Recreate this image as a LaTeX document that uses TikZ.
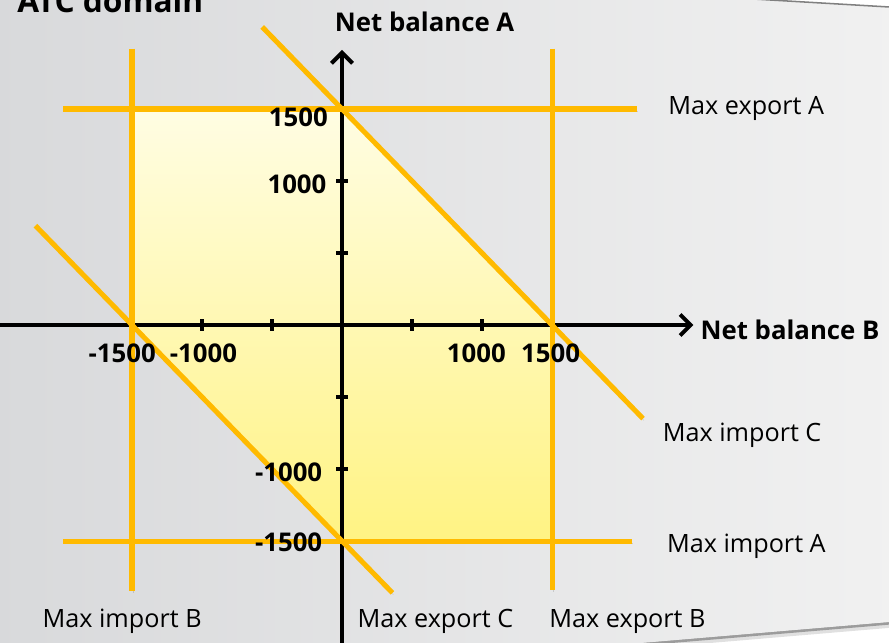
\documentclass[tikz,border=0pt]{standalone}
\usepackage{fontspec}
\setmainfont{Open Sans}
\usepackage{xcolor}
\usetikzlibrary{arrows.meta}

\definecolor{limcol}{HTML}{FFBA00}
\definecolor{pageleft}{HTML}{D8D9DB}
\definecolor{pageright}{HTML}{F1F1F1}
\definecolor{zonetop}{HTML}{FFFDE3}
\definecolor{zonebot}{HTML}{FFF383}

\begin{document}
\begin{tikzpicture}[x=0.42cm,y=0.432cm,
  lim/.style={draw=limcol,line width=4.3pt,
              preaction={draw=black,opacity=0.13,transform canvas={shift={(0.8pt,-1.6pt)}}}},
  axis/.style={line width=3.4pt,-{Straight Barb[length=9pt,width=18pt]}},
  tick/.style={line width=3pt},
  num/.style={font=\fontsize{22}{26}\selectfont\bfseries,inner sep=0pt},
  lbl/.style={font=\fontsize{21.5}{26}\selectfont,anchor=base west,inner sep=0pt}
]
\useasboundingbox (-24.43,-22.08) rectangle (39.07,22.57);
\clip (-24.43,-22.08) rectangle (39.07,22.57);
\fill[white] (-24.43,-22.08) rectangle (39.07,22.57);

% page with its shadow
\draw[black,opacity=0.12,line width=6pt,transform canvas={shift={(0pt,-2pt)}}]
  (-25.14,-25.9) -- (39.86,-20.56);
\draw[black,opacity=0.3,line width=2.5pt,transform canvas={shift={(0pt,-1pt)}}]
  (-25.14,-25.9) -- (39.86,-20.56);
\shade[left color=pageleft,right color=pageright]
  (-25.14,25.76) -- (39.86,22.04) -- (39.86,-20.56) -- (-25.14,-25.9) -- cycle;
\draw[gray,line width=1.3pt] (-25.14,25.76) -- (39.86,22.04);

% ATC domain
\shade[top color=zonetop,bottom color=zonebot]
  (-15,15) -- (0,15) -- (15,0) -- (15,-15) -- (0,-15) -- (-15,0) -- cycle;

% axes
\coordinate (xL) at (-25,0);
\coordinate (xR) at (25.1,0);
\coordinate (yB) at (0,-23);
\coordinate (yT) at (0,19.1);
\draw[axis] (xL) -- (xR);
\draw[axis] (yB) -- (yT);
\foreach \t in {-10,-5,5,10} {
  \draw[tick] (\t,-0.4) -- (\t,0.4);
  \draw[tick] (-0.4,\t) -- (0.4,\t);
}

% limits
\coordinate (expA1) at (-19.9,15);  \coordinate (expA2) at (21.1,15);
\coordinate (impA1) at (-19.9,-15); \coordinate (impA2) at (20.7,-15);
\coordinate (impB1) at (-15,19.2);  \coordinate (impB2) at (-15,-18.5);
\coordinate (expB1) at (15,19.2);   \coordinate (expB2) at (15,-18.4);
\coordinate (impC1) at (-5.7,20.7); \coordinate (impC2) at (21.5,-6.5);
\coordinate (expC1) at (-21.9,6.9); \coordinate (expC2) at (3.6,-18.6);
\draw[lim] (impB1) -- (impB2);
\draw[lim] (expB1) -- (expB2);
\draw[lim] (expA1) -- (expA2);
\draw[lim] (impA1) -- (impA2);
\draw[lim] (impC1) -- (impC2);
\draw[lim] (expC1) -- (expC2);

% tick labels
\node[num] (xm15) at (-15.7,-1.95) {-1500};
\node[num] (xm10) at (-9.9,-1.95)  {-1000};
\node[num] (xp10) at (9.6,-1.95)   {1000};
\node[num] (xp15) at (14.9,-1.95)  {1500};
\node[num,anchor=east] (yp15) at (-1.0,14.45) {1500};
\node[num,anchor=east] (yp10) at (-1.1,9.8)   {1000};
\node[num,anchor=east] (ym10) at (-1.4,-10.2) {-1000};
\node[num,anchor=east] (ym15) at (-1.4,-15.1) {-1500};

% titles
\node[num,anchor=base] (tA) at (5.9,20.4) {Net balance A};
\node[num,anchor=base west] (tB) at (25.6,-1.04) {Net balance B};
\node[font=\fontsize{27}{32}\selectfont\bfseries,anchor=base east,inner sep=0pt]
  (title) at (-9.9,21.7) {ATC domain};

% limit labels
\node[lbl] (lExpA) at (23.3,14.6) {Max export A};
\node[lbl] (lImpC) at (22.9,-8.1) {Max import C};
\node[lbl] (lImpA) at (23.2,-15.8) {Max import A};
\node[lbl] (lImpB) at (-21.4,-21) {Max import B};
\node[lbl] (lExpC) at (1.1,-21)   {Max export C};
\node[lbl] (lExpB) at (14.8,-21)  {Max export B};
\end{tikzpicture}
\end{document}
